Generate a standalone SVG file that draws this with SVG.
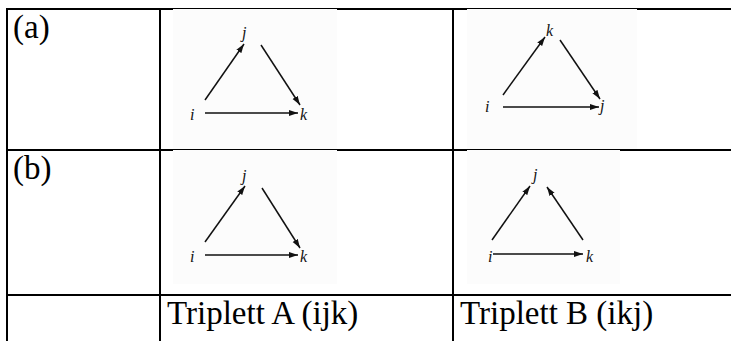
<svg xmlns="http://www.w3.org/2000/svg" width="731" height="341" viewBox="0 0 731 341">
<style>
.grid{stroke:#000;stroke-width:2;fill:none}
.img{fill:#fcfcfc;stroke:none}
.cap{font-family:"Liberation Serif","Times New Roman",serif;font-size:33px;fill:#000}
.lbl{font-family:"Liberation Serif","Times New Roman",serif;font-size:16px;font-style:italic;fill:#111}
.edge{stroke:#111;stroke-width:1.5;fill:none;marker-end:url(#ah)}
</style>
<defs>
<marker id="ah" markerUnits="userSpaceOnUse" markerWidth="10" markerHeight="7" refX="9" refY="3" orient="auto">
<path d="M0,0 L9,3 L0,6 z" fill="#111"/>
</marker>
</defs>
<rect width="731" height="341" fill="#fff"/>
<g id="table">
<line class="grid" x1="6" y1="9" x2="731" y2="9"/>
<line class="grid" x1="6" y1="150" x2="731" y2="150"/>
<line class="grid" x1="6" y1="295" x2="731" y2="295"/>
<line class="grid" x1="7" y1="8" x2="7" y2="341"/>
<line class="grid" x1="160" y1="8" x2="160" y2="341"/>
<line class="grid" x1="453" y1="8" x2="453" y2="341"/>
</g>
<g id="images">
<rect class="img" x="173" y="9" width="164" height="140"/>
<rect class="img" x="467" y="9" width="170" height="140"/>
<rect class="img" x="173" y="150" width="164" height="134"/>
<rect class="img" x="467" y="150" width="153" height="134"/>
</g>
<g id="captions">
<text class="cap" x="13" y="38">(a)</text>
<text class="cap" x="13" y="179">(b)</text>
<text class="cap" x="167" y="324">Triplett A (ijk)</text>
<text class="cap" x="460" y="324">Triplett B (ikj)</text>
</g>
<g id="nodes">
<g id="triplet-a-a">
<text class="lbl" x="242" y="38">j</text>
<text class="lbl" x="190" y="120">i</text>
<text class="lbl" x="300" y="120">k</text>
</g>
<g id="triplet-b-a">
<text class="lbl" x="546" y="36">k</text>
<text class="lbl" x="485" y="112">i</text>
<text class="lbl" x="600" y="111">j</text>
</g>
<g id="triplet-a-b">
<text class="lbl" x="242" y="181">j</text>
<text class="lbl" x="190" y="262">i</text>
<text class="lbl" x="300" y="262">k</text>
</g>
<g id="triplet-b-b">
<text class="lbl" x="533" y="180">j</text>
<text class="lbl" x="488" y="262">i</text>
<text class="lbl" x="586" y="262">k</text>
</g>
</g>
<g id="connectors">
<line class="edge" x1="205" y1="100" x2="244" y2="44"/>
<line class="edge" x1="261" y1="45" x2="300" y2="105"/>
<line class="edge" x1="205" y1="113" x2="298" y2="113"/>
<line class="edge" x1="503" y1="95" x2="545" y2="37"/>
<line class="edge" x1="560" y1="40" x2="600" y2="99"/>
<line class="edge" x1="503" y1="107" x2="599" y2="107"/>
<line class="edge" x1="205" y1="242" x2="245" y2="186"/>
<line class="edge" x1="262" y1="188" x2="300" y2="248"/>
<line class="edge" x1="205" y1="255" x2="298" y2="255"/>
<line class="edge" x1="492" y1="240" x2="530" y2="186"/>
<line class="edge" x1="583" y1="240" x2="547" y2="187"/>
<line class="edge" x1="493" y1="254" x2="583" y2="254"/>
</g>
</svg>
